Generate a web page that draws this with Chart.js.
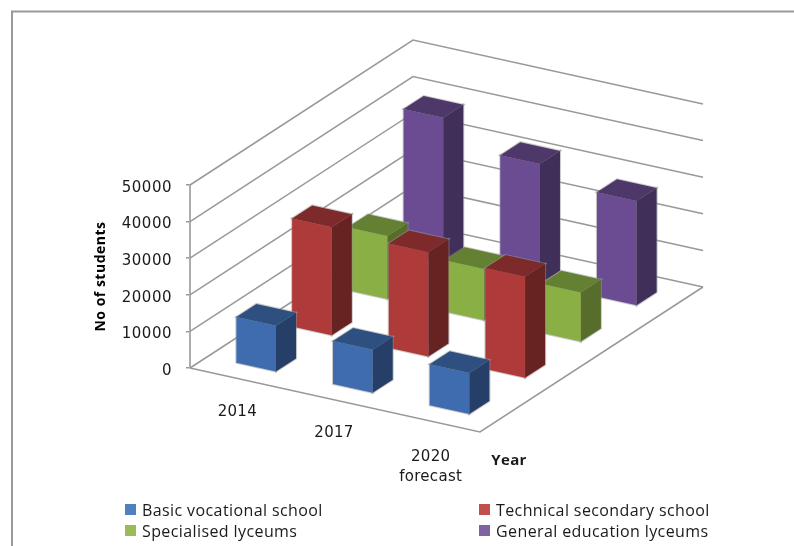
<!DOCTYPE html>
<html>
<head>
<meta charset="utf-8">
<title>No of students</title>
<script src="https://cdn.jsdelivr.net/npm/chart.js@4"></script>
<style>
  html, body { margin: 0; padding: 0; background: #fff; }
  canvas { display: block; }
</style>
</head>
<body>
<canvas id="chart" width="794" height="546"></canvas>
<script>
const years = [['2014'], ['2017'], ['2020', 'forecast']]
const seriesNames = ['Basic vocational school', 'Technical secondary school', 'Specialised lyceums', 'General education lyceums']
const basicVocational = [12500, 11750, 11200]
const technicalSecondary = [29500, 28500, 27600]
const specialisedLyceums = [17200, 14000, 13400]
const generalEducation = [39600, 32800, 28500]
const seriesValues = [basicVocational, technicalSecondary, specialisedLyceums, generalEducation]
const valueTicks = [0, 10000, 20000, 30000, 40000, 50000]

const frontColors = ['#3F6CAF', '#AF3A3A', '#8AAF45', '#6B4B91']
const topColors = ['#2E5080', '#7E2A2A', '#648032', '#4E3769']
const sideColors = ['#253F68', '#672222', '#566D2B', '#402F58']
const legendColors = ['#4F81BD', '#C0504D', '#9BBB59', '#8064A2']

const gridColor = '#999999'
const textColor = '#1a1a1a'

// shear of the floor into the x/y scales: one year steps right and down, one series steps right and up
const YEAR_DROP = 5828
const DEPTH_RUN = 0.5767
const DEPTH_RISE = 9904
const BAR_WIDTH = 0.41
const BAR_DEPTH = 0.36

function project(year, depth, value) {
  return {
    x: year + depth * DEPTH_RUN,
    y: value + depth * DEPTH_RISE - year * YEAR_DROP
  }
}

const threeD = {
  id: 'threeD',
  beforeDraw(chart) {
    const ctx = chart.ctx
    ctx.save()
    ctx.fillStyle = '#fff'
    ctx.fillRect(0, 0, chart.width, chart.height)
    ctx.strokeStyle = '#999'
    ctx.lineWidth = 2
    ctx.beginPath()
    ctx.moveTo(12, chart.height)
    ctx.lineTo(12, 11.5)
    ctx.lineTo(chart.width, 11.5)
    ctx.stroke()
    ctx.restore()
    ctx.letterSpacing = '0.5px'
  },
  beforeDatasetsDraw(chart) {
    const ctx = chart.ctx
    const nYears = years.length
    const nSeries = seriesNames.length
    const toPixel = p => [chart.scales.x.getPixelForValue(p.x), chart.scales.y.getPixelForValue(p.y)]

    function path(points) {
      ctx.beginPath()
      points.forEach((p, i) => {
        const [px, py] = toPixel(p)
        if (i === 0) ctx.moveTo(px, py)
        else ctx.lineTo(px, py)
      })
    }

    ctx.save()
    ctx.strokeStyle = gridColor
    ctx.lineWidth = 1.5
    valueTicks.forEach(v => {
      path([project(0, 0, v), project(0, nSeries, v), project(nYears, nSeries, v)])
      ctx.stroke()
    })
    path([project(0, 0, 0), project(nYears, 0, 0), project(nYears, nSeries, 0)])
    ctx.stroke()

    // back row first, left year first, so nearer bars paint over
    for (let s = nSeries - 1; s >= 0; s--) {
      for (let y = 0; y < nYears; y++) {
        const value = seriesValues[s][y]
        const y0 = y + 0.5 - BAR_WIDTH / 2
        const y1 = y + 0.5 + BAR_WIDTH / 2
        const d0 = s + 0.5 - BAR_DEPTH / 2
        const d1 = s + 0.5 + BAR_DEPTH / 2
        const faces = [
          [[y0, d0, 0], [y1, d0, 0], [y1, d0, value], [y0, d0, value], frontColors[s]],
          [[y1, d0, 0], [y1, d1, 0], [y1, d1, value], [y1, d0, value], sideColors[s]],
          [[y0, d0, value], [y1, d0, value], [y1, d1, value], [y0, d1, value], topColors[s]]
        ]
        ctx.strokeStyle = 'rgba(150,150,150,0.5)'
        ctx.lineWidth = 2
        faces.forEach(f => {
          path(f.slice(0, 4).map(c => project(c[0], c[1], c[2])))
          ctx.closePath()
          ctx.stroke()
        })
        faces.forEach(f => {
          path(f.slice(0, 4).map(c => project(c[0], c[1], c[2])))
          ctx.closePath()
          ctx.fillStyle = f[4]
          ctx.fill()
        })
      }
    }
    ctx.restore()
  },
  afterDraw(chart) {
    const ctx = chart.ctx
    const toPixel = p => [chart.scales.x.getPixelForValue(p.x), chart.scales.y.getPixelForValue(p.y)]
    ctx.save()
    ctx.textAlign = 'center'
    ctx.textBaseline = 'middle'
    ctx.fillStyle = textColor

    // year labels hang under the front edge of the floor
    ctx.font = '15px "DejaVu Sans"'
    ctx.letterSpacing = '0.3px'
    years.forEach((lines, i) => {
      const [px, py] = toPixel(project(i + 0.5, 0, 0))
      const top = py + 33 + (lines.length - 1) * 3
      lines.forEach((line, n) => ctx.fillText(line, px - 1, top + n * 20))
    })

    const [cx, cy] = toPixel(project(years.length, 0, 0))
    ctx.font = 'bold 15px "Open Sans"'
    ctx.fillText('Year', cx + 29, cy + 29)

    ctx.textAlign = 'left'
    ctx.font = '16px "Open Sans"'
    ctx.letterSpacing = '0.4px'
    seriesNames.forEach((name, i) => {
      const lx = i % 2 === 0 ? 125 : 479
      const ly = i < 2 ? 509.5 : 530.5
      ctx.fillStyle = legendColors[i]
      ctx.fillRect(lx, ly - 5.5, 11, 11)
      ctx.fillStyle = textColor
      ctx.fillText(name, lx + 17, ly + 1.5)
    })
    ctx.restore()
  }
}

new Chart(document.getElementById('chart'), {
  type: 'scatter',
  data: {
    datasets: seriesNames.map((name, s) => ({
      label: name,
      data: seriesValues[s].map((v, y) => project(y + 0.5, s + 0.5, v)),
      backgroundColor: frontColors[s],
      pointRadius: 0,
      clip: false
    }))
  },
  options: {
    responsive: false,
    animation: false,
    layout: { padding: { left: 92, right: 91, top: 185, bottom: 178 } },
    plugins: { legend: { display: false }, tooltip: { enabled: false } },
    scales: {
      x: { type: 'linear', display: false, min: 0, max: years.length + seriesNames.length * DEPTH_RUN },
      y: {
        min: valueTicks[0],
        max: valueTicks[valueTicks.length - 1],
        afterFit(scale) { scale.width = 98 },
        afterBuildTicks(scale) { scale.ticks = valueTicks.map(value => ({ value })) },
        grid: { drawOnChartArea: false, drawTicks: true, tickLength: 4, color: gridColor, lineWidth: 1.5 },
        border: { display: true, color: '#ADADAD', width: 2 },
        ticks: {
          padding: 14,
          labelOffset: 3,
          color: textColor,
          font: { family: '"DejaVu Sans"', size: 15 },
          callback: v => String(v)
        },
        title: {
          display: true,
          text: 'No of students',
          color: '#000',
          font: { family: '"Open Sans"', size: 14, weight: 'bold' },
          padding: 1
        }
      }
    }
  },
  plugins: [threeD]
})
</script>
</body>
</html>
